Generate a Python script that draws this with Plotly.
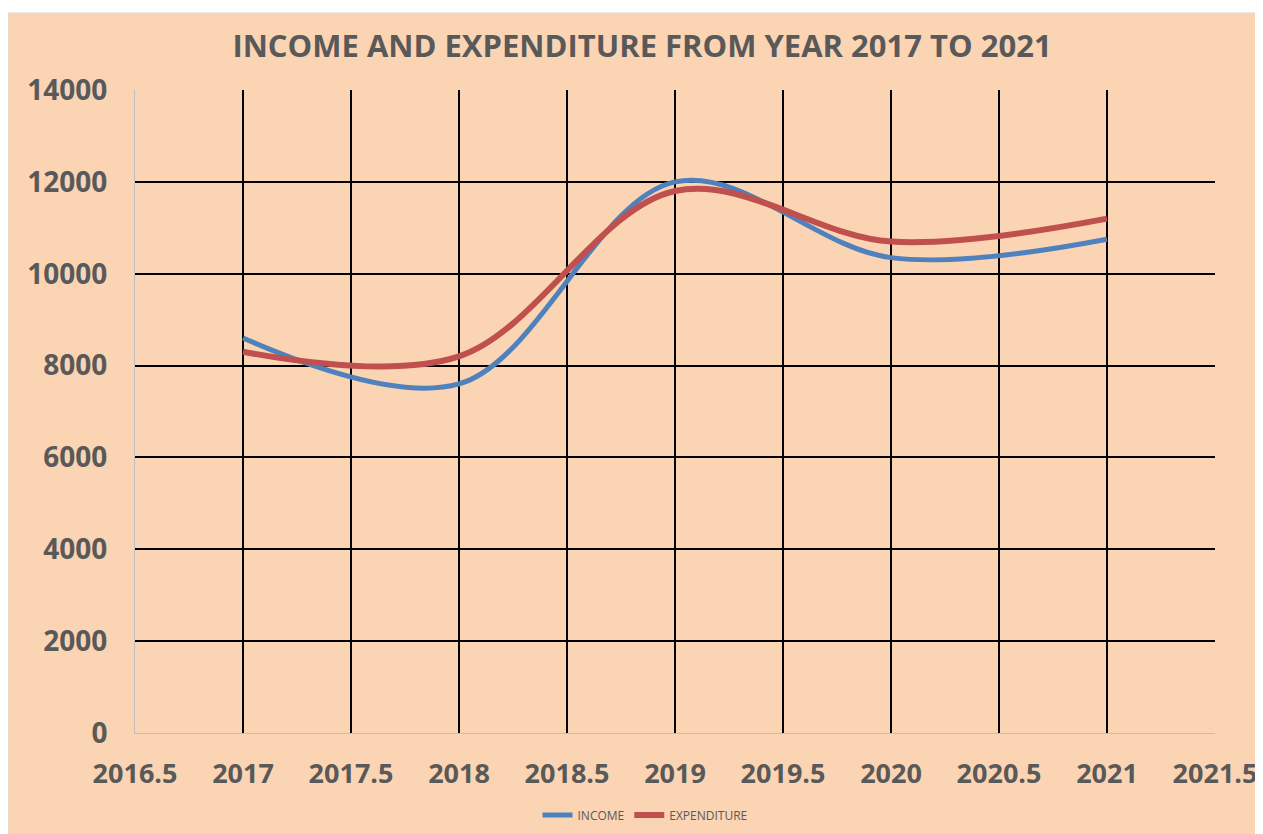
import plotly.graph_objects as go

years = [2017, 2018, 2019, 2020, 2021]
income = [8600, 7600, 12000, 10350, 10750]
expenditure = [8300, 8200, 11800, 10700, 11200]

x_tickvals = [2016.5, 2017, 2017.5, 2018, 2018.5, 2019, 2019.5, 2020, 2020.5, 2021, 2021.5]
x_ticktext = ["2016.5", "2017", "2017.5", "2018", "2018.5", "2019", "2019.5", "2020", "2020.5", "2021", "2021.5"]
y_tickvals = [0, 2000, 4000, 6000, 8000, 10000, 12000, 14000]
y_ticktext = ["0", "2000", "4000", "6000", "8000", "10000", "12000", "14000"]

PEACH = "#FBD4B4"
GREY = "#595959"

fig = go.Figure()
fig.add_trace(go.Scatter(x=years, y=income, name="INCOME", mode="lines",
                         line=dict(color="#4F81BD", width=5, shape="spline", smoothing=1)))
fig.add_trace(go.Scatter(x=years, y=expenditure, name="EXPENDITURE", mode="lines",
                         line=dict(color="#C0504D", width=6, shape="spline", smoothing=1)))

# page body has an 8px margin, so the figure starts at (8, 8) in the window
OFF = 8
W, H = 1263 - OFF, 834 - OFF
L, T = 135 - OFF, 90 - OFF
R = W - (1215 - OFF)
B = H - (733 - OFF)
pw, ph = W - L - R, H - T - B

fig.add_shape(type="rect", xref="paper", yref="paper", layer="below",
              x0=(0 - L) / pw, x1=(W + 5 - L) / pw,
              y0=(T + ph - H - 5) / ph, y1=(T + ph - (13 - OFF)) / ph,
              fillcolor=PEACH, line=dict(color="#D9D9D9", width=1))

fig.update_layout(
    width=W, height=H,
    margin=dict(l=L, r=R, t=T, b=B, autoexpand=False),
    paper_bgcolor="white",
    plot_bgcolor=PEACH,
    title=dict(text="INCOME AND EXPENDITURE FROM YEAR 2017 TO 2021",
               x=(642 - OFF) / W, xanchor="center", xref="container",
               y=1 - (46 - OFF) / H, yanchor="middle", yref="container",
               font=dict(family="Open Sans", size=31, color=GREY, weight="bold")),
    legend=dict(orientation="h", x=(645 - 135) / pw, xanchor="center",
                y=(733 - 815) / ph, yanchor="middle",
                font=dict(family="Open Sans", size=12, color=GREY),
                bgcolor="rgba(0,0,0,0)", itemwidth=30),
    showlegend=True,
)

fig.update_xaxes(range=[2016.5, 2021.5], tickvals=x_tickvals, ticktext=x_ticktext,
                 showgrid=True, gridcolor="black", gridwidth=2,
                 showline=True, linecolor="#BFBFBF", linewidth=1,
                 zeroline=False, ticks="", ticklabelstandoff=17, automargin=False,
                 tickfont=dict(family="Open Sans", size=27, color=GREY, weight="bold"))
fig.update_yaxes(range=[0, 14000], tickvals=y_tickvals, ticktext=y_ticktext,
                 showgrid=True, gridcolor="black", gridwidth=1.5,
                 showline=True, linecolor="#BFBFBF", linewidth=1,
                 zeroline=False, ticks="", ticklabelstandoff=21, automargin=False,
                 tickfont=dict(family="Open Sans", size=28, color=GREY, weight="bold"))

fig.write_html("out.html")
